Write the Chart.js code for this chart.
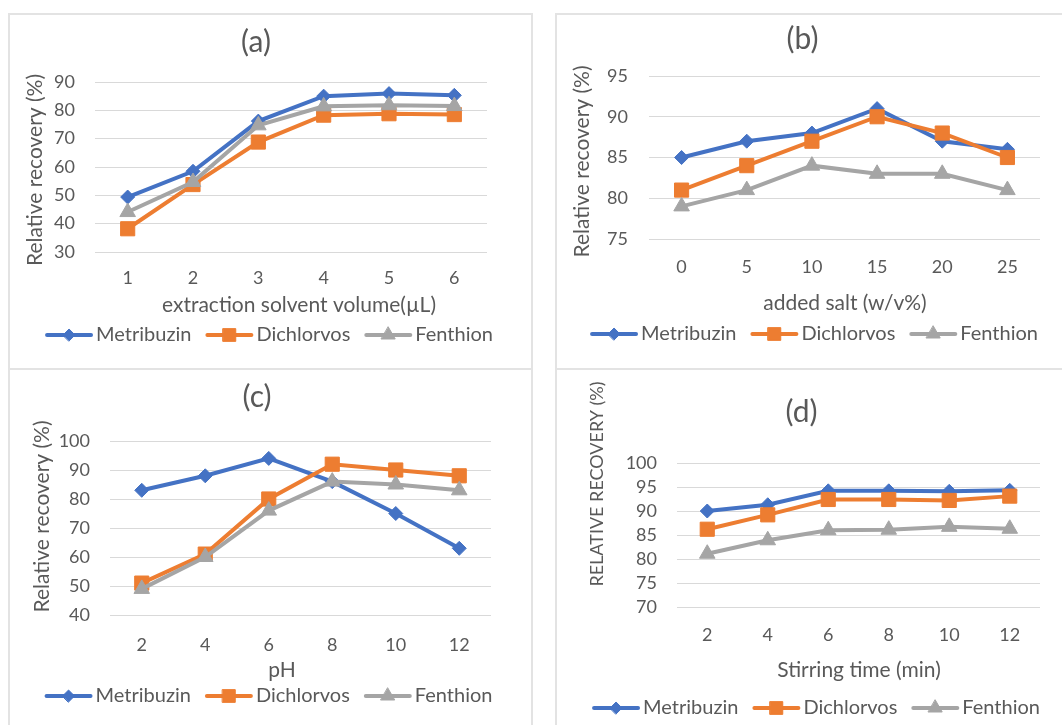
<!DOCTYPE html>
<html lang="en">
<head>
<meta charset="UTF-8">
<title>Relative recovery</title>
<script src="https://cdn.jsdelivr.net/npm/chart.js"></script>
<style>
  body { margin: 0; background: #fff; width: 1062px; height: 725px; overflow: hidden; position: relative; }
  .frame { position: absolute; box-sizing: border-box; border: 2px solid #e3e3e3; }
  canvas { position: absolute; }
</style>
</head>
<body>
<div class="frame" style="left:8px;top:13px;width:525px;height:357px"></div>
<div class="frame" style="left:555px;top:13px;width:520px;height:357px"></div>
<div class="frame" style="left:8px;top:368px;width:525px;height:370px"></div>
<div class="frame" style="left:555px;top:368px;width:520px;height:370px"></div>

<canvas id="chartA" width="522" height="355" style="left:9px;top:14px"></canvas>
<canvas id="chartB" width="506" height="355" style="left:556px;top:14px"></canvas>
<canvas id="chartC" width="522" height="356" style="left:9px;top:369px"></canvas>
<canvas id="chartD" width="506" height="356" style="left:556px;top:369px"></canvas>

<script>
// categories
const volumeLabels = ['1', '2', '3', '4', '5', '6'];
const saltLabels = ['0', '5', '10', '15', '20', '25'];
const phLabels = ['2', '4', '6', '8', '10', '12'];
const timeLabels = ['2', '4', '6', '8', '10', '12'];

// (a) extraction solvent volume
const volMetribuzin = [49.4, 58.5, 76.2, 85, 85.9, 85.3];
const volDichlorvos = [38.2, 53.8, 68.8, 78.3, 78.8, 78.5];
const volFenthion = [44.1, 54.7, 74.7, 81.4, 81.8, 81.5];

// (b) added salt
const saltMetribuzin = [85, 87, 88, 91, 87, 86];
const saltDichlorvos = [81, 84, 87, 90, 88, 85];
const saltFenthion = [79, 81, 84, 83, 83, 81];

// (c) pH
const phMetribuzin = [83, 88, 94, 86, 75, 63];
const phDichlorvos = [51, 61, 80, 92, 90, 88];
const phFenthion = [49, 60, 76, 86, 85, 83];

// (d) stirring time
const timeMetribuzin = [90, 91.3, 94.2, 94.2, 94.1, 94.3];
const timeDichlorvos = [86.2, 89.2, 92.4, 92.4, 92.2, 93.1];
const timeFenthion = [81.1, 83.9, 86, 86.1, 86.7, 86.3];

// y axis ticks: min, max, step
const volTicks = [30, 90, 10];
const saltTicks = [75, 95, 5];
const phTicks = [40, 100, 10];
const timeTicks = [70, 100, 5];

const seriesNames = ['Metribuzin', 'Dichlorvos', 'Fenthion'];

const TEXT = '#595959';
const FONT = 'Lato, "Open Sans", sans-serif';
const COLORS = ['#4472C4', '#ED7D31', '#A5A5A5'];
const MARKERS = [
    { style: 'rectRot', radius: 7 },
    { style: 'rect', radius: 10 },
    { style: 'triangle', radius: 9 }
];

Chart.defaults.font.family = FONT;
Chart.defaults.color = TEXT;

// titles, axis titles and legend drawn at fixed spots, like the Excel layout
const decorPlugin = {
    id: 'decor',
    afterDraw(chart, args, opts) {
        const ctx = chart.ctx;
        ctx.save();
        ctx.fillStyle = TEXT;
        ctx.textAlign = 'center';
        ctx.textBaseline = 'middle';

        ctx.font = '30px ' + FONT;
        ctx.fillText(opts.title[0], opts.title[1], opts.title[2]);

        ctx.font = '21px ' + FONT;
        ctx.fillText(opts.xTitle[0], opts.xTitle[1], opts.xTitle[2]);

        ctx.save();
        ctx.translate(opts.yTitle[1], opts.yTitle[2]);
        ctx.rotate(-Math.PI / 2);
        ctx.font = (opts.yTitleSize || 21) + 'px ' + FONT;
        ctx.fillText(opts.yTitle[0], 0, 0);
        ctx.restore();

        // legend: line + marker, then label
        ctx.font = '20px ' + FONT;
        const lineW = 48, gap = 3, spacing = 14;
        const sets = chart.data.datasets;
        const widths = sets.map(ds => lineW + gap + ctx.measureText(ds.label).width);
        const total = widths.reduce((a, b) => a + b, 0) + spacing * (sets.length - 1);
        let x = opts.legend[0] - total / 2;
        const y = opts.legend[1];
        sets.forEach((ds, i) => {
            ctx.strokeStyle = ds.borderColor;
            ctx.fillStyle = ds.borderColor;
            ctx.lineWidth = 4;
            ctx.lineCap = 'round';
            ctx.beginPath();
            ctx.moveTo(x + 2, y);
            ctx.lineTo(x + lineW - 2, y);
            ctx.stroke();
            ctx.lineWidth = 1;
            Chart.helpers.drawPoint(ctx, {
                pointStyle: ds.pointStyle, radius: ds.pointRadius - 1, rotation: 0, borderWidth: 1
            }, x + lineW / 2, y);
            ctx.fillStyle = TEXT;
            ctx.textAlign = 'left';
            ctx.fillText(ds.label, x + lineW + gap, y);
            x += widths[i] + spacing;
        });
        ctx.restore();
    }
};

function makeChart(id, labels, values, ticks, box, decor) {
    const datasets = values.map((v, i) => ({
        label: seriesNames[i],
        data: v,
        borderColor: COLORS[i],
        backgroundColor: COLORS[i],
        borderWidth: 4,
        tension: 0,
        pointStyle: MARKERS[i].style,
        pointRadius: MARKERS[i].radius,
        pointBorderWidth: 1,
        pointBackgroundColor: COLORS[i],
        pointBorderColor: COLORS[i],
        order: values.length - i
    }));
    const canvas = document.getElementById(id);
    return new Chart(canvas, {
        type: 'line',
        data: { labels: labels, datasets: datasets },
        plugins: [decorPlugin],
        options: {
            responsive: false,
            animation: false,
            layout: {
                padding: { left: 0, top: box.top, right: canvas.width - box.right, bottom: 0 }
            },
            plugins: {
                legend: { display: false },
                title: { display: false },
                tooltip: { enabled: false },
                decor: decor
            },
            scales: {
                x: {
                    offset: true,
                    grid: { display: false, drawTicks: false },
                    border: { display: false },
                    ticks: { padding: box.xPad, font: { size: 18 }, color: TEXT, maxRotation: 0 },
                    afterFit: s => { s.height = canvas.height - box.bottom; }
                },
                y: {
                    min: ticks[0],
                    max: ticks[1],
                    grid: { color: '#d9d9d9', lineWidth: 1, drawTicks: false },
                    border: { display: false },
                    ticks: { stepSize: ticks[2], autoSkip: false, padding: box.yPad, font: { size: 18 }, color: TEXT },
                    afterFit: s => { s.width = box.left; }
                }
            }
        }
    });
}

makeChart('chartA', volumeLabels, [volMetribuzin, volDichlorvos, volFenthion], volTicks,
    { left: 86, top: 68, right: 478, bottom: 238, xPad: 15, yPad: 20 },
    { title: ['(a)', 247, 28], yTitle: ['Relative recovery (%)', 26, 156],
      xTitle: ['extraction solvent volume(\u00b5L)', 290, 291], legend: [260, 321] });

makeChart('chartB', saltLabels, [saltMetribuzin, saltDichlorvos, saltFenthion], saltTicks,
    { left: 93, top: 62, right: 484, bottom: 225, xPad: 17, yPad: 21 },
    { title: ['(b)', 246.5, 25], yTitle: ['Relative recovery (%)', 26.5, 147.5],
      xTitle: ['added salt (w/v%)', 289, 289], legend: [258, 320] });

makeChart('chartC', phLabels, [phMetribuzin, phDichlorvos, phFenthion], phTicks,
    { left: 101, top: 72, right: 482, bottom: 246, xPad: 19, yPad: 20 },
    { title: ['(c)', 248, 28], yTitle: ['Relative recovery (%)', 33.5, 147.5],
      xTitle: ['pH', 273, 301], legend: [259.5, 327] });

makeChart('chartD', timeLabels, [timeMetribuzin, timeDichlorvos, timeFenthion], timeTicks,
    { left: 121, top: 94, right: 484, bottom: 238, xPad: 17.5, yPad: 20 },
    { title: ['(d)', 245.5, 43], yTitle: ['RELATIVE RECOVERY (%)', 41, 115], yTitleSize: 18,
      xTitle: ['Stirring time (min)', 303, 301], legend: [260, 339] });
</script>
</body>
</html>
